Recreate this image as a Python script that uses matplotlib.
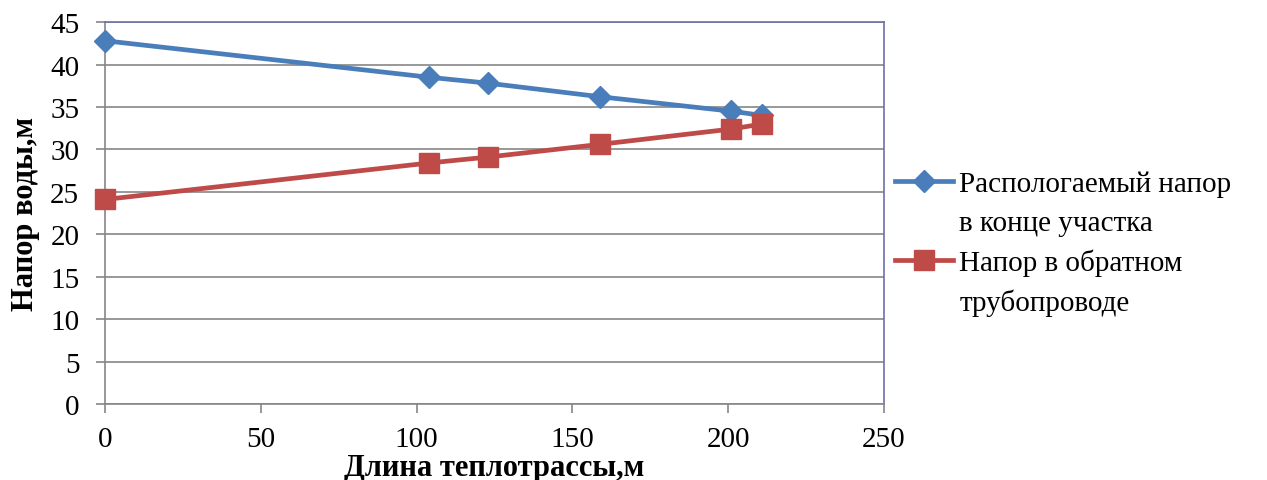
import matplotlib.pyplot as plt
from matplotlib.lines import Line2D

plt.rcParams['font.family'] = ['Liberation Serif', 'DejaVu Serif']

# Длина участка, м
length = [0, 104, 123, 159, 201, 211]
# Располагаемый напор в конце участка, м
head_available = [42.8, 38.5, 37.8, 36.2, 34.5, 34.0]
# Напор в обратном трубопроводе, м
head_return = [24.1, 28.4, 29.1, 30.6, 32.4, 33.0]

label_available = ["Распологаемый напор", "в конце участка"]
label_return = ["Напор в обратном", "трубопроводе"]

fs = 21

fig = plt.figure(figsize=(12.67, 4.81), dpi=100)
ax = fig.add_axes([0.0829, 0.158, 0.6148, 0.794])

l1, = ax.plot(length, head_available, color="#4a7ebb", lw=3.4, marker="D",
              markersize=11, clip_on=False, zorder=3)
l2, = ax.plot(length, head_return, color="#be4b48", lw=3.4, marker="s",
              markersize=14.5, clip_on=False, zorder=3)

ax.set_xlim(0, 250)
ax.set_ylim(0, 45)
ax.set_xticks(range(0, 251, 50))
ax.set_yticks(range(0, 46, 5))
ax.yaxis.grid(True, color="#868686", lw=1.2)
ax.set_axisbelow(True)

for s in ["left", "bottom"]:
    ax.spines[s].set_color("#868686")
    ax.spines[s].set_linewidth(1.2)
for s in ["top", "right"]:
    ax.spines[s].set_color("#6f6fa8")
    ax.spines[s].set_linewidth(1.2)

ax.tick_params(axis="both", direction="out", length=6.5, width=1.2,
               color="#868686", labelsize=fs)
ax.tick_params(axis="x", pad=9)
ax.tick_params(axis="y", pad=12)

ax.set_xlabel("Длина теплотрассы,м", fontsize=fs + 1, fontweight="bold")
ax.set_ylabel("Напор воды,м", fontsize=fs + 1, fontweight="bold")
ax.xaxis.set_label_coords(0.5, -0.165)
ax.xaxis.label.set_va("center")
ax.yaxis.set_label_coords(-0.102, 0.5)
ax.yaxis.label.set_va("center")

blank = Line2D([], [], color="none")
ax.legend([l1, blank, l2, blank],
          [label_available[0], label_available[1], label_return[0], label_return[1]],
          loc="upper left", bbox_to_anchor=(895 / 1267, 1 - 172 / 481),
          bbox_transform=fig.transFigure, frameon=False, fontsize=fs,
          handlelength=2.0, handletextpad=0.2, labelspacing=0.42,
          borderpad=0, borderaxespad=0)

fig.savefig("out.png", dpi=100)
